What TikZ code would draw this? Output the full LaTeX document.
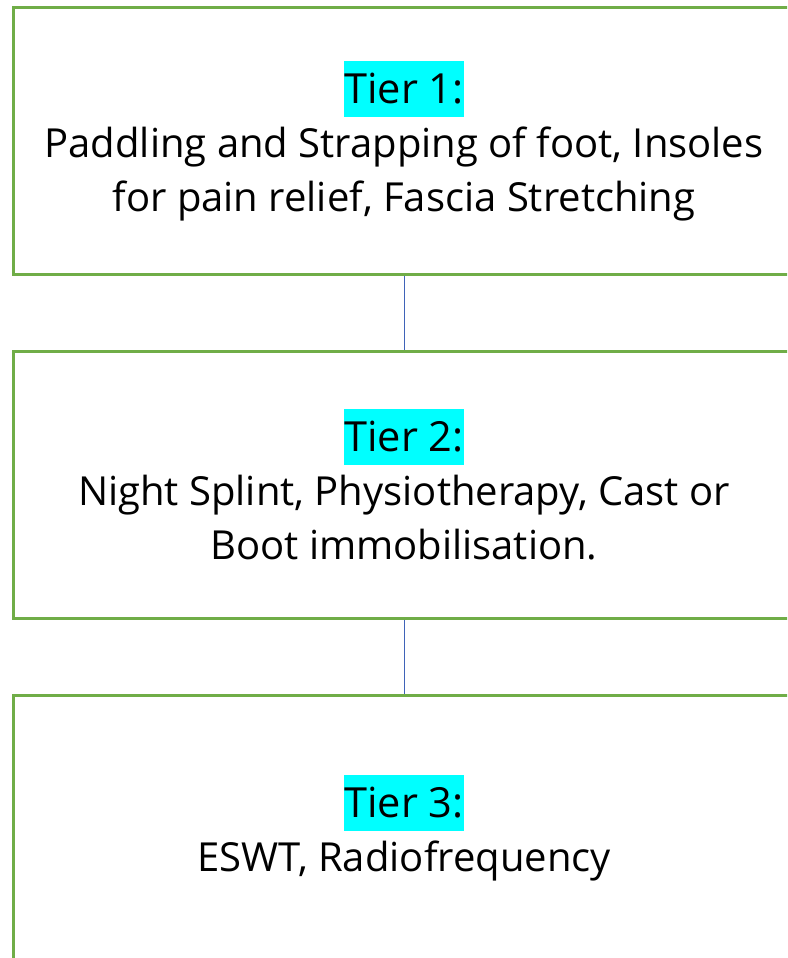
\documentclass[tikz,border=0pt]{standalone}
\usepackage{fontspec}
\setmainfont{Open Sans}
\definecolor{boxgreen}{HTML}{70AD47}
\definecolor{linkblue}{HTML}{3F63B8}
\definecolor{hl}{HTML}{00FFFF}
\newcommand{\tierhl}[1]{{\fontsize{41.5}{54}\selectfont\setlength{\fboxsep}{0pt}\colorbox{hl}{\rule[-13pt]{0pt}{56pt}#1}}}
\begin{document}
\begin{tikzpicture}[x=1pt,y=-1pt,
  tierbox/.style={draw=boxgreen,line width=3pt,fill=white,minimum width=782pt,
    inner sep=0pt,align=center,font=\fontsize{40}{54}\selectfont},
  link/.style={draw=linkblue,line width=1pt}]
\useasboundingbox (0,0) rectangle (787,958);
\clip (0,0) rectangle (787,958);
\fill[white] (0,0) rectangle (787,958);
\node[tierbox,minimum height=266pt] (b1) at (404,141)
  {\tierhl{Tier 1:}\\Paddling and Strapping of foot, Insoles\\for pain relief, Fascia Stretching};
\node[tierbox,minimum height=267pt] (b2) at (404,484.5)
  {\tierhl{Tier 2:}\\Night Splint, Physiotherapy, Cast or\\Boot immobilisation.};
\node[tierbox,minimum height=266pt] (b3) at (404,828)
  {\tierhl{Tier 3:}\\ESWT, Radiofrequency};
\draw[link] (b1.south) -- (b2.north);
\draw[link] (b2.south) -- (b3.north);
\end{tikzpicture}
\end{document}
